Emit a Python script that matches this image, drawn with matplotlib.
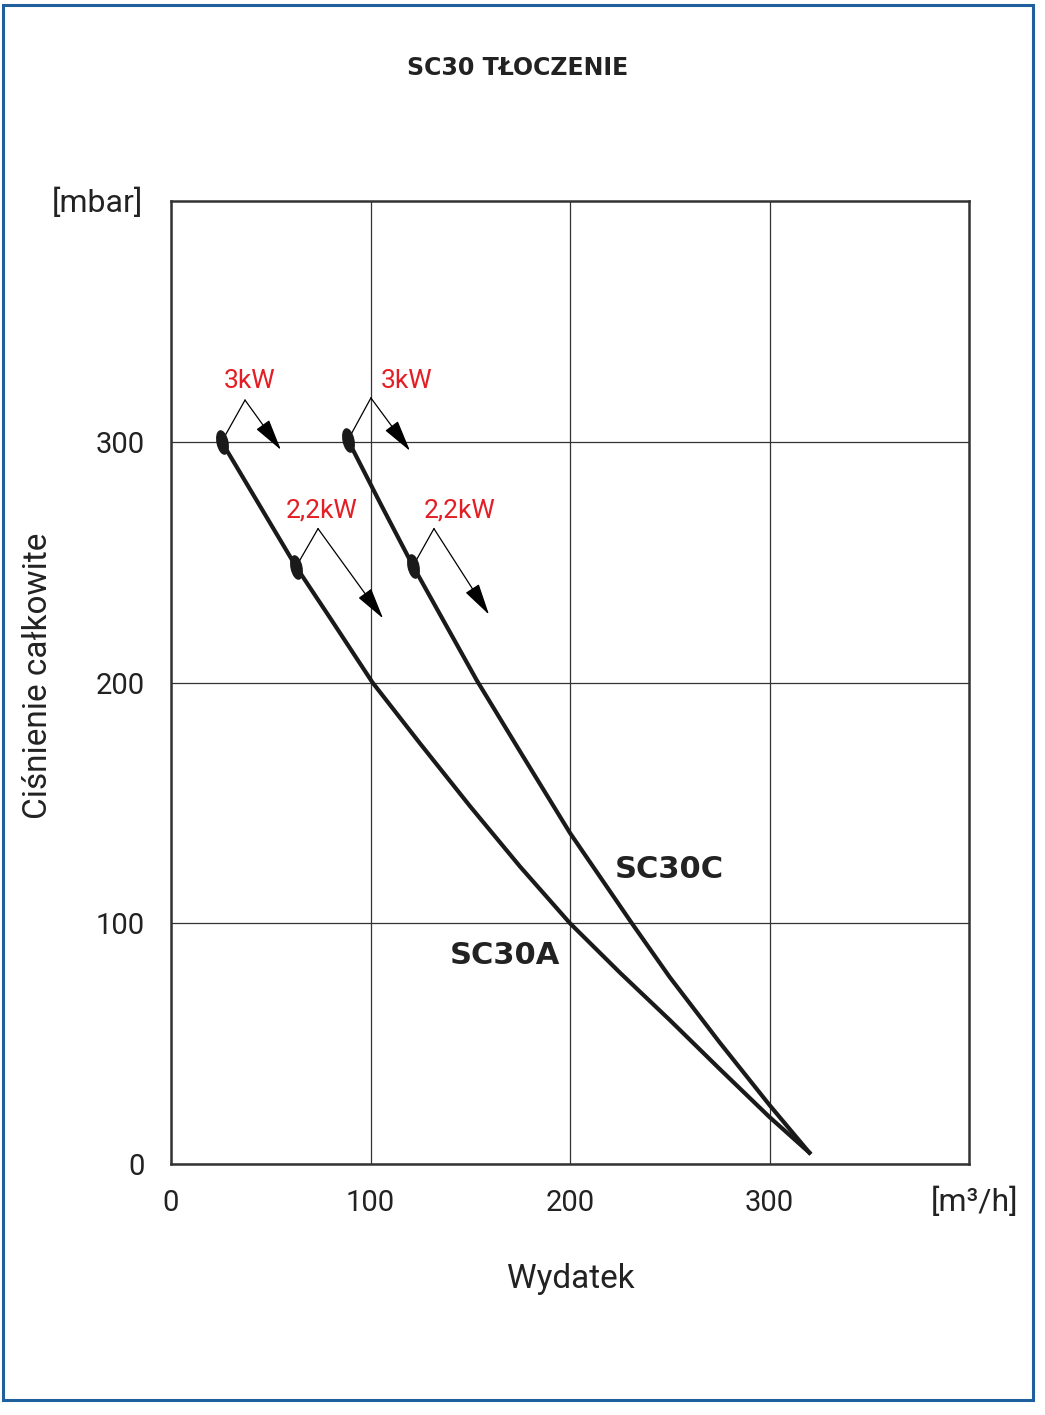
import matplotlib.pyplot as plt
from matplotlib.markers import MarkerStyle
from matplotlib.patches import Rectangle
from matplotlib.transforms import Affine2D

# Flow [m3/h] vs total pressure [mbar]
sc30a_q = [25.4, 40, 62.7, 80, 101, 125, 150, 175, 200, 225, 250, 275, 300, 320]
sc30a_p = [300, 279.7, 248.1, 226.5, 200, 174.5, 148.5, 123.5, 100, 79.5, 59.8, 39.5, 19.5, 4.7]

sc30c_q = [88.7, 105, 121.3, 153.2, 175, 200, 231, 250, 275, 300, 320]
sc30c_p = [300.7, 274.3, 248.4, 201, 171.3, 137.5, 100, 77.6, 50.5, 24.5, 4.7]

# motor power limits on each curve: (flow, pressure)
power_labels = ["3kW", "2,2kW", "3kW", "2,2kW"]
power_q = [25.4, 62.7, 88.7, 121.3]
power_p = [300, 248.1, 300.7, 248.4]

x_ticks = [0, 100, 200, 300]
y_ticks = [0, 100, 200, 300]

plt.rcParams["font.family"] = ["Roboto", "DejaVu Sans"]

fig = plt.figure(figsize=(10.45, 14.15), dpi=100)
ax = fig.add_axes([171 / 1045, 251 / 1415, 798 / 1045, 963 / 1415])

# blue frame round the whole chart
fig.patches.append(
    Rectangle((3 / 1045, 15 / 1415), 1030 / 1045, 1395 / 1415,
              transform=fig.transFigure, fill=False,
              edgecolor="#1f5f9e", linewidth=2.2)
)

ax.set_xlim(0, 400)
ax.set_ylim(0, 400)
ax.set_xticks(x_ticks)
ax.set_yticks(y_ticks)
ax.grid(True, color="#333333", linewidth=0.9)
ax.set_axisbelow(True)
ax.tick_params(length=0, labelsize=21, colors="#222222")
ax.tick_params(axis="x", pad=18)
ax.tick_params(axis="y", pad=19)
for s in ax.spines.values():
    s.set_color("#333333")
    s.set_linewidth(1.8)

# curves
ax.plot(sc30a_q, sc30a_p, color="#1a1a1a", linewidth=3.0,
        solid_joinstyle="round", zorder=3)
ax.plot(sc30c_q, sc30c_p, color="#1a1a1a", linewidth=3.0,
        solid_joinstyle="round", zorder=3)

ell = MarkerStyle("o", transform=Affine2D().scale(0.45, 1).rotate_deg(12))
ax.plot(power_q, power_p, linestyle="none", marker=ell, markersize=17,
        color="#1a1a1a", zorder=4)

# callouts: line up to a knee, then an arrow down-right
knees = [(37.1, 317.3), (73.7, 263.9), (100.2, 318.2), (131.8, 263.9)]
tips = [(55.1, 296.6), (106.3, 226.6), (119.8, 296.2), (159.4, 228.2)]
label_pos = [(39.6, 325.3), (75.7, 271.3), (118.3, 325.3), (144.9, 271.3)]
for q, p, (kx, ky), (tx, ty), (lx, ly), txt in zip(
        power_q, power_p, knees, tips, label_pos, power_labels):
    ax.plot([q, kx], [p, ky], color="black", linewidth=0.9, zorder=3)
    ax.annotate("", xy=(tx, ty), xytext=(kx, ky),
                arrowprops=dict(arrowstyle="-|>,head_length=1.0,head_width=0.25",
                                mutation_scale=20, color="black", lw=0.9,
                                shrinkA=0, shrinkB=0), zorder=3)
    ax.text(lx, ly, txt, color="#e31e24", fontsize=19,
            ha="center", va="center")

ax.text(249.6, 122.5, "SC30C", fontsize=22, fontweight="bold",
        color="#222222", ha="center", va="center", family="DejaVu Sans")
ax.text(167.4, 86.7, "SC30A", fontsize=22, fontweight="bold",
        color="#222222", ha="center", va="center", family="DejaVu Sans")

# titles and axis captions
fig.text(518 / 1045, 1 - 68 / 1415, "SC30 TŁOCZENIE", fontsize=17,
         fontweight="bold", color="#222222", ha="center", va="center",
         family="DejaVu Sans")
fig.text(97 / 1045, 1 - 203 / 1415, "[mbar]", fontsize=23,
         color="#222222", ha="center", va="center")
fig.text(975 / 1045, 1 - 1202 / 1415, "[m³/h]", fontsize=23,
         color="#222222", ha="center", va="center")
fig.text(571 / 1045, 1 - 1279 / 1415, "Wydatek", fontsize=24,
         color="#222222", ha="center", va="center")
fig.text(38 / 1045, 1 - 676 / 1415, "Ciśnienie całkowite", fontsize=24,
         color="#222222", ha="center", va="center", rotation=90)

fig.savefig("out.png", dpi=100)
